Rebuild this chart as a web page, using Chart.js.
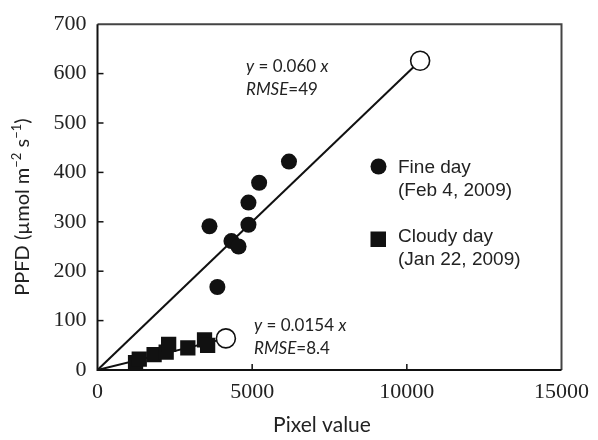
<!DOCTYPE html>
<html><head><meta charset="utf-8">
<script src="https://cdn.jsdelivr.net/npm/chart.js@4/dist/chart.umd.min.js"></script>
<style>html,body{margin:0;padding:0;background:#fff}#wrap{width:598px;height:440px;position:relative}</style>
</head><body><div id="wrap"><canvas id="c"></canvas></div>
<script>
// ---- data ----
const xTickValues = [0, 5000, 10000, 15000];
const yTickValues = [0, 100, 200, 300, 400, 500, 600, 700];
const fineX  = [6190, 5225, 4880, 3620, 4880, 4330, 4560, 3875];
const fineY  = [422, 379, 339, 291, 294, 261, 250, 168];
const cloudyX = [1230, 1350, 1830, 2220, 2300, 2920, 3460, 3560];
const cloudyY = [15, 22, 31, 36, 52, 45, 61, 50];
const fineFitX = [0, 10430];
const fineFitY = [0, 626];
const cloudyFitX = [0, 4150];
const cloudyFitY = [0, 64];
const seriesLabels = [['Fine day', '(Feb 4, 2009)'], ['Cloudy day', '(Jan 22, 2009)']];
const fitEquations = [['0.060'], ['0.0154']];
const fitRmse = ['49', '8.4'];
const xTitle = 'Pixel value';
const yTitle = ['PPFD (\u00b5mol m', '\u22122', ' s', '\u22121', ')'];

const toPts = (xs, ys) => xs.map((x, i) => ({x: x, y: ys[i]}));

const SANS = 'Lato, "Liberation Sans", sans-serif';

const decor = {
  id: 'decor',
  afterDraw(chart) {
    const ctx = chart.ctx;
    const a = chart.chartArea;
    const xs = chart.scales.x, ys = chart.scales.y;
    ctx.save();
    // frame
    ctx.lineWidth = 2;
    ctx.strokeStyle = '#444';
    ctx.beginPath();
    ctx.moveTo(a.left, a.top); ctx.lineTo(a.right, a.top); ctx.lineTo(a.right, a.bottom);
    ctx.stroke();
    ctx.strokeStyle = '#111';
    ctx.beginPath();
    ctx.moveTo(a.left, a.top); ctx.lineTo(a.left, a.bottom); ctx.lineTo(a.right, a.bottom);
    ctx.stroke();
    // inward ticks
    ctx.lineWidth = 1.5;
    xTickValues.slice(1, -1).forEach(v => {
      const px = xs.getPixelForValue(v);
      ctx.beginPath(); ctx.moveTo(px, a.bottom); ctx.lineTo(px, a.bottom - 6); ctx.stroke();
    });
    yTickValues.slice(1, -1).forEach(v => {
      const py = ys.getPixelForValue(v);
      ctx.beginPath(); ctx.moveTo(a.left, py); ctx.lineTo(a.left + 6, py); ctx.stroke();
    });

    // axis titles
    ctx.fillStyle = '#222';
    ctx.textBaseline = 'alphabetic';
    ctx.font = '21px ' + SANS;
    ctx.textAlign = 'center';
    ctx.fillText(xTitle, 322, 432);

    // y title with superscripts
    ctx.save();
    ctx.translate(29, (a.top + a.bottom) / 2 + 10);
    ctx.rotate(-Math.PI / 2);
    const big = '20px ' + SANS, small = '13px ' + SANS;
    const parts = yTitle.map((t, i) => ({t, sup: i === 1 || i === 3}));
    let total = 0;
    parts.forEach(p => { ctx.font = p.sup ? small : big; total += ctx.measureText(p.t).width; });
    let cx = -total / 2;
    ctx.textAlign = 'left';
    parts.forEach(p => {
      ctx.font = p.sup ? small : big;
      ctx.fillText(p.t, cx, p.sup ? -8 : 0);
      cx += ctx.measureText(p.t).width;
    });
    ctx.restore();

    // fit annotations
    const drawFit = (x, y, coef, rmse) => {
      let cx = x;
      const seg = (t, it) => {
        ctx.font = (it ? 'italic ' : '') + '17px ' + SANS;
        ctx.fillText(t, cx, y);
        cx += ctx.measureText(t).width;
      };
      ctx.textAlign = 'left';
      seg('y', true); seg(' = ' + coef + ' ', false); seg('x', true);
      cx = x; y += 23;
      seg('RMSE', true); seg('=' + rmse, false);
    };
    drawFit(246, 72, fitEquations[0][0], fitRmse[0]);
    drawFit(254, 331, fitEquations[1][0], fitRmse[1]);

    // legend
    ctx.fillStyle = '#111';
    ctx.beginPath(); ctx.arc(378.5, 166.5, 8, 0, Math.PI * 2); ctx.fill();
    ctx.fillRect(370.5, 231.5, 15.5, 15.5);
    ctx.fillStyle = '#222';
    ctx.font = '19px "Liberation Sans", Arial, sans-serif';
    ctx.textAlign = 'left';
    ctx.fillText(seriesLabels[0][0], 398, 173);
    ctx.fillText(seriesLabels[0][1], 398, 195.5);
    ctx.fillText(seriesLabels[1][0], 398, 242);
    ctx.fillText(seriesLabels[1][1], 398, 264.5);
    ctx.restore();
  }
};

new Chart(document.getElementById('c'), {
  type: 'scatter',
  data: {
    datasets: [
      { label: seriesLabels[0].join(' '), data: toPts(fineX, fineY), pointStyle: 'circle',
        pointRadius: 8, pointBackgroundColor: '#111', pointBorderWidth: 0, pointBorderColor: '#111' },
      { label: seriesLabels[1].join(' '), data: toPts(cloudyX, cloudyY), pointStyle: 'rect',
        pointRadius: 10.8, pointBackgroundColor: '#111', pointBorderWidth: 0, pointBorderColor: '#111' },
      { label: 'fit fine', data: toPts(fineFitX, fineFitY), showLine: true, borderColor: '#111',
        borderWidth: 2, pointRadius: [0, 9.5], pointBackgroundColor: '#fff', pointBorderColor: '#111',
        pointBorderWidth: 1.6 },
      { label: 'fit cloudy', data: toPts(cloudyFitX, cloudyFitY), showLine: true, borderColor: '#111',
        borderWidth: 2, pointRadius: [0, 9.5], pointBackgroundColor: '#fff', pointBorderColor: '#111',
        pointBorderWidth: 1.6 }
    ]
  },
  options: {
    responsive: true,
    maintainAspectRatio: false,
    animation: false,
    events: [],
    layout: { padding: { top: 19, right: 35, left: 0, bottom: 0 } },
    plugins: { legend: { display: false }, tooltip: { enabled: false } },
    scales: {
      x: {
        type: 'linear', min: 0, max: 15000,
        afterBuildTicks: s => { s.ticks = xTickValues.map(v => ({value: v})); },
        afterFit: s => { s.height = 70; },
        grid: { display: false, drawTicks: false },
        border: { display: false },
        ticks: { font: { family: '"Liberation Serif", serif', size: 22 }, color: '#222', padding: 9,
                 maxRotation: 0, callback: v => String(v) }
      },
      y: {
        type: 'linear', min: 0, max: 700,
        afterBuildTicks: s => { s.ticks = yTickValues.map(v => ({value: v})); },
        afterFit: s => { s.width = 97.5; },
        grid: { display: false, drawTicks: false },
        border: { display: false },
        ticks: { font: { family: '"Liberation Serif", serif', size: 22 }, color: '#222', padding: 11,
                 callback: v => String(v) }
      }
    }
  },
  plugins: [decor]
});
</script></body></html>
